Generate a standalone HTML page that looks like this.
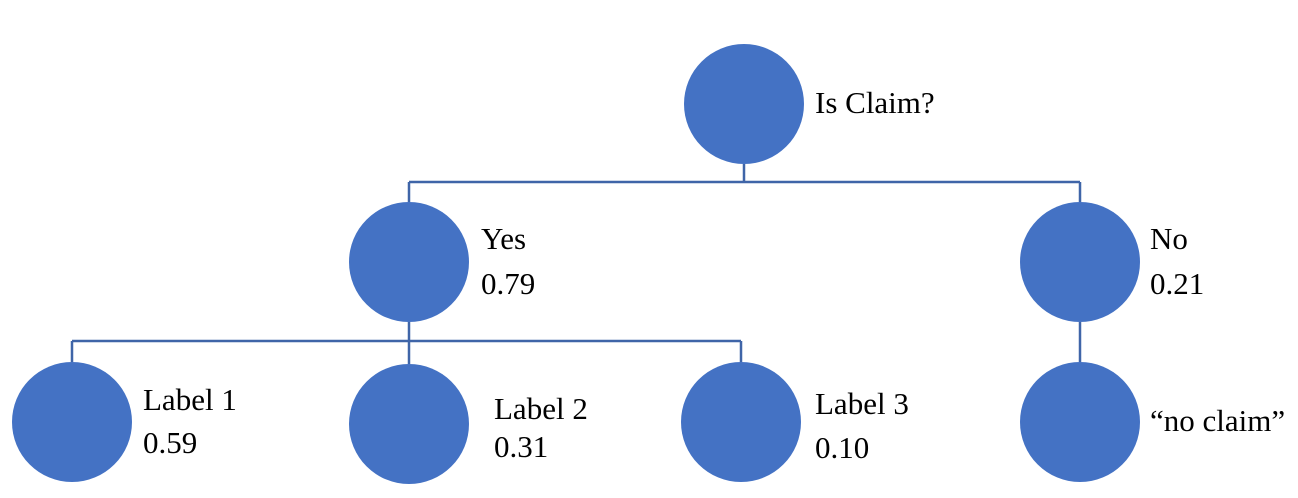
<!DOCTYPE html>
<html><head><meta charset="utf-8"><style>
html,body{margin:0;padding:0;background:#fff;}
svg{display:block;}
text{font-family:"Liberation Serif",serif;font-size:31px;fill:#000;}
</style></head><body>
<svg width="1298" height="498" viewBox="0 0 1298 498">
<g stroke="#3f65a8" stroke-width="2.5" fill="none">
<path d="M744 164V182M409 182H1080M409 182V202M1080 182V202"/>
<path d="M409 322V341M72 341H741M72 341V362M409 341V364M741 341V362"/>
<path d="M1080 322V362"/>
</g>
<g fill="#4472c4">
<circle cx="744" cy="104" r="60"/>
<circle cx="409" cy="262" r="60"/>
<circle cx="1080" cy="262" r="60"/>
<circle cx="72" cy="422" r="60"/>
<circle cx="409" cy="424" r="60"/>
<circle cx="741" cy="422" r="60"/>
<circle cx="1080" cy="422" r="60"/>
</g>
<text x="815" y="113">Is Claim?</text>
<text x="481" y="249">Yes</text>
<text x="481" y="294">0.79</text>
<text x="1150" y="249">No</text>
<text x="1150" y="294">0.21</text>
<text x="143" y="410">Label 1</text>
<text x="143" y="453">0.59</text>
<text x="494" y="419">Label 2</text>
<text x="494" y="457">0.31</text>
<text x="815" y="414">Label 3</text>
<text x="815" y="458">0.10</text>
<text x="1150" y="431">“no claim”</text>
</svg>
</body></html>
